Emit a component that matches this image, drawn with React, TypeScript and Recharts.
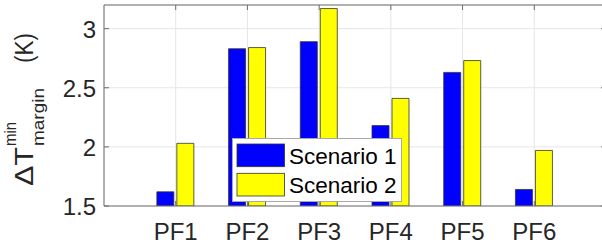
import React from 'react';
import { BarChart, Bar, XAxis, YAxis, CartesianGrid, ReferenceLine, Legend } from 'recharts';

const categories = ['PF1', 'PF2', 'PF3', 'PF4', 'PF5', 'PF6'];
const scenario1 = [1.62, 2.83, 2.89, 2.18, 2.63, 1.64];
const scenario2 = [2.03, 2.84, 3.17, 2.41, 2.73, 1.97];
const seriesNames = ['Scenario 1', 'Scenario 2'];
const yTicks = [1.5, 2, 2.5, 3];
const yDomain = [1.5, 3.2];

const data = categories.map((name, i) => ({ name, s1: scenario1[i], s2: scenario2[i] }));

const FONT = '"Liberation Sans", Arial, Helvetica, sans-serif';
const AXIS_COLOR = '#6e6e6e';
const TEXT_COLOR = '#262626';
const GRID_COLOR = '#e6e6e6';

const CHART_W = 620;
const CHART_H = 251;
const MARGIN = { top: 5, right: 14, bottom: 0, left: 0 };
const Y_AXIS_W = 104;
const X_AXIS_H = 45;
const PLOT_LEFT = MARGIN.left + Y_AXIS_W;
const PLOT_RIGHT = CHART_W - MARGIN.right;
const PLOT_TOP = MARGIN.top;
const PLOT_BOTTOM = CHART_H - MARGIN.bottom - X_AXIS_H;
const TICK_LEN = 5;

const YTick = (props: any) => {
  const { x, y, payload } = props;
  return (
    <g>
      <line x1={PLOT_LEFT} x2={PLOT_LEFT + TICK_LEN} y1={y} y2={y} stroke={AXIS_COLOR} strokeWidth={1} />
      <line x1={PLOT_RIGHT - TICK_LEN} x2={PLOT_RIGHT} y1={y} y2={y} stroke={AXIS_COLOR} strokeWidth={1} />
      <text x={x} y={y + 9} textAnchor="end" fontFamily={FONT} fontSize={24} fill={TEXT_COLOR}>
        {payload.value}
      </text>
    </g>
  );
};

const XTick = (props: any) => {
  const { x, y, payload } = props;
  return (
    <g>
      <line x1={x} x2={x} y1={PLOT_TOP} y2={PLOT_TOP + TICK_LEN} stroke={AXIS_COLOR} strokeWidth={1} />
      <line x1={x} x2={x} y1={PLOT_BOTTOM} y2={PLOT_BOTTOM - TICK_LEN} stroke={AXIS_COLOR} strokeWidth={1} />
      <text x={x} y={y + 34} textAnchor="middle" fontFamily={FONT} fontSize={24} fill={TEXT_COLOR}>
        {payload.value}
      </text>
    </g>
  );
};

const YLabel = () => {
  // rotated frame: x' = -screenY (runs upward), y' = screenX - baseX (runs right)
  const baseX = 33;
  const stretch = 'spacingAndGlyphs';
  return (
    <g transform={`translate(${baseX}, 0) rotate(-90)`} fontFamily={FONT} fill={TEXT_COLOR}>
      <text x={-186} y={0} fontSize={25} textLength={39} lengthAdjust={stretch}>ΔT</text>
      <text x={-146} y={-17.5} fontSize={17} textLength={24} lengthAdjust={stretch}>min</text>
      <text x={-146} y={11} fontSize={17} textLength={58} lengthAdjust={stretch}>margin</text>
      <text x={-63} y={0} fontSize={25} textLength={30} lengthAdjust={stretch}>(K)</text>
    </g>
  );
};

const LegendBox = (props: any) => {
  const payload = props.payload || [];
  return (
    <svg width={170} height={64} style={{ display: 'block' }}>
      <rect x={0.5} y={0.5} width={169} height={63} fill="#ffffff" stroke="#a8a8a8" strokeWidth={1} />
      {payload.map((item: any, i: number) => (
        <g key={i}>
          <rect x={5} y={6 + i * 29.3} width={47.5} height={22.7} fill={item.color} stroke="#333" strokeWidth={0.8} />
          <text x={57} y={26 + i * 29} fontFamily={FONT} fontSize={22.5} fill="#000">
            {item.value}
          </text>
        </g>
      ))}
    </svg>
  );
};

export default function App() {
  return (
    <div style={{ position: 'fixed', left: 0, top: 0, width: 602, height: 251, overflow: 'hidden', background: '#fff' }}>
      <BarChart width={CHART_W} height={CHART_H} data={data} margin={MARGIN} barSize={17} barGap={3}>
        <CartesianGrid stroke={GRID_COLOR} strokeWidth={1} />
        <XAxis
          dataKey="name"
          height={X_AXIS_H}
          padding={{ left: 35.85, right: 35.85 }}
          axisLine={{ stroke: AXIS_COLOR, strokeWidth: 1 }}
          tickLine={false}
          tickSize={0}
          tickMargin={0}
          tick={<XTick />}
          interval={0}
        />
        <YAxis
          width={Y_AXIS_W}
          domain={yDomain}
          ticks={yTicks}
          allowDataOverflow
          axisLine={{ stroke: AXIS_COLOR, strokeWidth: 1 }}
          tickLine={false}
          tickSize={0}
          tickMargin={8}
          tick={<YTick />}
          label={{ content: () => <YLabel /> }}
        />
        <ReferenceLine y={yDomain[1]} stroke={AXIS_COLOR} strokeWidth={1} />
        <Bar dataKey="s1" name={seriesNames[0]} fill="#0000ff" stroke="#333" strokeWidth={0.8} isAnimationActive={false} />
        <Bar dataKey="s2" name={seriesNames[1]} fill="#ffff00" stroke="#333" strokeWidth={0.8} isAnimationActive={false} />
        <Legend
          layout="vertical"
          align="center"
          verticalAlign="middle"
          content={<LegendBox />}
          wrapperStyle={{ left: 232, top: 138, width: 170, height: 64, right: 'auto', bottom: 'auto' }}
        />
      </BarChart>
    </div>
  );
}
